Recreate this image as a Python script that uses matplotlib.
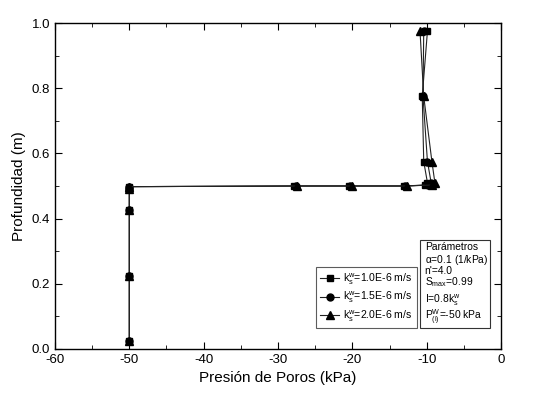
import numpy as np
import matplotlib.pyplot as plt
from matplotlib.ticker import MultipleLocator
from matplotlib.patches import Rectangle

plt.rcParams['font.family'] = ['Liberation Sans', 'DejaVu Sans']
plt.rcParams['mathtext.fontset'] = 'custom'
plt.rcParams['mathtext.rm'] = 'Liberation Sans'
plt.rcParams['mathtext.it'] = 'Liberation Sans'
plt.rcParams['axes.unicode_minus'] = False

# depth (m) of nodes, same for each series
depth = [0.025, 0.225, 0.425, 0.49, 0.498, 0.5, 0.5, 0.5, 0.503, 0.51, 0.575, 0.775, 0.975]

# pore pressure (kPa) for each k^w_s
pres_10 = [-50.0, -50.0, -50.0, -50.0, -50.0, -27.8, -20.5, -13.1, -10.2, -9.9, -10.4, -10.6, -9.9]
pres_15 = [-50.0, -50.0, -50.0, -50.0, -50.0, -27.6, -20.3, -12.9, -9.8, -9.4, -9.9, -10.5, -10.4]
pres_20 = [-50.0, -50.0, -50.0, -50.0, -50.0, -27.4, -20.1, -12.7, -9.3, -8.9, -9.3, -10.4, -10.9]

labels = [r'$\mathregular{k^{w}_{s}}$=1.0E-6 m/s',
          r'$\mathregular{k^{w}_{s}}$=1.5E-6 m/s',
          r'$\mathregular{k^{w}_{s}}$=2.0E-6 m/s']

param_lines = ['Parámetros',
               r'$\mathregular{\alpha}$=0.1 (1/kPa)',
               "n'=4.0",
               r'$\mathregular{S_{max}}$=0.99',
               r'I=0.8$\mathregular{k^{w}_{s}}$',
               r'$\mathregular{P^{W}_{(i)}}$=-50 kPa']

fig = plt.figure(figsize=(5.47, 3.97), dpi=100)
ax = fig.add_axes([0.1005, 0.121, 0.8155, 0.821])

ax.plot(pres_10, depth, color='#222222', lw=0.8, marker='s', ms=5, mfc='black', mec='black', label=labels[0])
ax.plot(pres_15, depth, color='#222222', lw=0.8, marker='o', ms=5, mfc='black', mec='black', label=labels[1])
ax.plot(pres_20, depth, color='#222222', lw=0.8, marker='^', ms=5.5, mfc='black', mec='black', label=labels[2])

ax.set_xlim(-60, 0)
ax.set_ylim(0, 1.0)
ax.xaxis.set_major_locator(MultipleLocator(10))
ax.xaxis.set_minor_locator(MultipleLocator(5))
ax.yaxis.set_major_locator(MultipleLocator(0.2))
ax.yaxis.set_minor_locator(MultipleLocator(0.1))
ax.yaxis.set_major_formatter(plt.FuncFormatter(lambda v, p: '%.1f' % v))
ax.tick_params(which='both', direction='in', top=True, right=True, labelsize=9.5)
ax.tick_params(which='major', length=5)
ax.tick_params(which='minor', length=3)
for s in ax.spines.values():
    s.set_linewidth(1.0)

ax.set_xlabel('Presión de Poros (kPa)', fontsize=11)
ax.set_ylabel('Profundidad (m)', fontsize=11)

leg = ax.legend(loc='lower right', bbox_to_anchor=(0.812, 0.064), fontsize=7.6,
                frameon=True, fancybox=False, edgecolor='#333333',
                handlelength=1.8, borderpad=0.4, labelspacing=0.3, borderaxespad=0,
                handletextpad=0.4)
leg.get_frame().set_linewidth(0.8)

# parameter box
ax.add_patch(Rectangle((0.818, 0.064), 0.157, 0.27, transform=ax.transAxes,
                       fc='white', ec='#333333', lw=0.8, zorder=5))
ys = [0.314, 0.273, 0.240, 0.206, 0.150, 0.098]
for s, y in zip(param_lines, ys):
    ax.text(0.829, y, s, transform=ax.transAxes, fontsize=7.4, va='center', ha='left', zorder=6)

fig.savefig('out.png', dpi=100)
